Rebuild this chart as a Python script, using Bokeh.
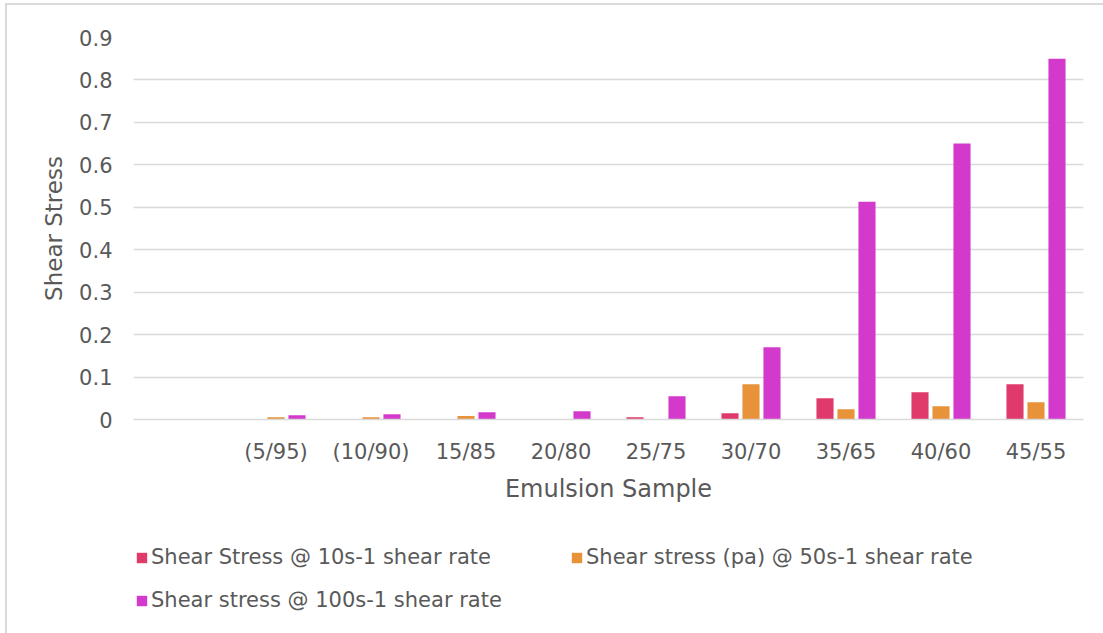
from bokeh.plotting import figure
from bokeh.layouts import column
from bokeh.models import (ColumnDataSource, FactorRange, Range1d, Legend, LegendItem,
                          FixedTicker)
from bokeh.transform import dodge
from bokeh.embed import file_html
from bokeh.resources import INLINE

# Oil/water ratio of each emulsion; the first slot is left empty on the axis
categories = [" ", "(5/95)", "(10/90)", "15/85", "20/80", "25/75",
              "30/70", "35/65", "40/60", "45/55"]
samples = categories[1:]

stress_10 = [0.001, 0.001, 0.001, 0.001, 0.0055, 0.0146, 0.050, 0.064, 0.083]
stress_50 = [0.0055, 0.0055, 0.008, 0.001, 0.001, 0.083, 0.024, 0.031, 0.0405]
stress_100 = [0.010, 0.0125, 0.017, 0.0195, 0.055, 0.170, 0.513, 0.650, 0.850]

y_ticks = [0, 0.1, 0.2, 0.3, 0.4, 0.5, 0.6, 0.7, 0.8, 0.9]

labels = ["Shear Stress @ 10s-1 shear rate",
          "Shear stress (pa) @ 50s-1 shear rate",
          "Shear stress @ 100s-1 shear rate"]
colors = ["#E03A6B", "#E8933A", "#D33ACB"]
series = ["s10", "s50", "s100"]
offsets = [-0.221, 0.0, 0.221]

FONT = "DejaVu Sans"
TEXT = "#595959"
GRID = "#d9d9d9"

src = ColumnDataSource(dict(sample=samples, s10=stress_10, s50=stress_50, s100=stress_100))

# ---- bar chart ----
p = figure(width=1096, height=515, x_range=FactorRange(*categories),
           y_range=Range1d(0, 0.9), output_backend="svg", toolbar_location=None,
           min_border_left=126, min_border_right=20, min_border_top=32,
           min_border_bottom=101)
p.outline_line_color = None
p.background_fill_color = "white"
p.border_fill_color = "white"

for col, off, color in zip(series, offsets, colors):
    p.vbar(x=dodge("sample", off, range=p.x_range), top=col, width=0.18,
           source=src, fill_color=color, line_color=None)

p.yaxis.ticker = FixedTicker(ticks=y_ticks)
p.yaxis.axis_line_color = None
p.yaxis.major_tick_line_color = None
p.yaxis.minor_tick_line_color = None
p.yaxis.major_label_standoff = 15
p.yaxis.axis_label = "Shear Stress"
p.yaxis.axis_label_standoff = 9

p.xaxis.axis_line_color = GRID
p.xaxis.axis_line_width = 1.5
p.xaxis.major_tick_line_color = None
p.xaxis.minor_tick_line_color = None
p.xaxis.major_label_standoff = 14
p.xaxis.axis_label = "Emulsion Sample"
p.xaxis.axis_label_standoff = 8

for ax in (p.xaxis, p.yaxis):
    ax.major_label_text_font = FONT
    ax.major_label_text_font_size = "21px"
    ax.major_label_text_color = TEXT
    ax.axis_label_text_font = FONT
    ax.axis_label_text_font_style = "normal"
    ax.axis_label_text_color = TEXT
p.xaxis.axis_label_text_font_size = "24px"
p.yaxis.axis_label_text_font_size = "23px"

p.xgrid.grid_line_color = None
p.ygrid.grid_line_color = GRID
p.ygrid.grid_line_width = 1.5
p.ygrid.ticker = FixedTicker(ticks=y_ticks)

# ---- legend strip under the chart ----
# The key panel shares the category axis; its value range sits above the data,
# so the swatch renderers only feed the legend.
key = figure(width=1096, height=113, x_range=p.x_range, y_range=Range1d(1, 2),
             output_backend="svg", toolbar_location=None,
             x_axis_type=None, y_axis_type=None,
             min_border_left=0, min_border_right=0, min_border_top=0, min_border_bottom=0)
key.outline_line_color = None
key.xgrid.grid_line_color = None
key.ygrid.grid_line_color = None

swatches = [key.vbar(x=dodge("sample", off, range=key.x_range), top=col, width=0.18,
                     source=src, fill_color=c, line_color=None)
            for col, off, c in zip(series, offsets, colors)]

legend = Legend(items=[LegendItem(label=lab, renderers=[r]) for lab, r in zip(labels, swatches)],
                location=(2, 21), orientation="horizontal", ncols=2,
                label_text_font=FONT, label_text_font_size="21px",
                label_text_color=TEXT, glyph_width=13, glyph_height=13,
                label_standoff=3, label_width=400, spacing=19, padding=0, margin=0,
                border_line_color=None, background_fill_alpha=0)
key.add_layout(legend, "center")

page = column(p, key, spacing=0)
# light frame on the top and left of the chart area
page.styles = {"border-top": "2px solid #d9d9d9", "border-left": "2px solid #d9d9d9",
               "margin-left": "5px", "margin-top": "3px"}

open("out.html", "w").write(file_html(page, INLINE))
